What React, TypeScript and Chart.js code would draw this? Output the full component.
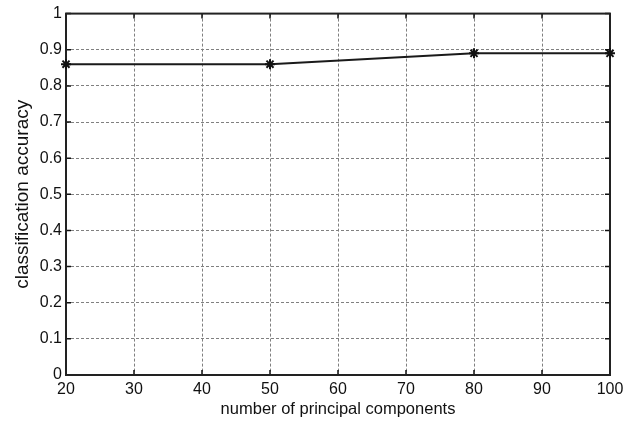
import React, { useEffect, useRef } from "react";
import { Chart, registerables } from "chart.js";

Chart.register(...registerables);

const components = [20, 50, 80, 100];
const accuracy = [0.86, 0.86, 0.89, 0.89];
const xTitle = "number of principal components";
const yTitle = "classification accuracy";

const FONT = "'Liberation Sans', Arial, Helvetica, sans-serif";

const boxPlugin = {
  id: "matlabBox",
  beforeDatasetsDraw(chart: any) {
    const { ctx, chartArea } = chart;
    const xs = chart.scales.x;
    const ys = chart.scales.y;
    ctx.save();
    ctx.strokeStyle = "#111";
    ctx.lineWidth = 1.5;
    ctx.beginPath();
    const tl = 5;
    xs.ticks.forEach((t: any) => {
      const px = xs.getPixelForValue(t.value);
      ctx.moveTo(px, chartArea.bottom);
      ctx.lineTo(px, chartArea.bottom - tl);
      ctx.moveTo(px, chartArea.top);
      ctx.lineTo(px, chartArea.top + tl);
    });
    ys.ticks.forEach((t: any) => {
      const py = ys.getPixelForValue(t.value);
      ctx.moveTo(chartArea.left, py);
      ctx.lineTo(chartArea.left + tl, py);
      ctx.moveTo(chartArea.right, py);
      ctx.lineTo(chartArea.right - tl, py);
    });
    ctx.stroke();
    ctx.lineWidth = 2;
    ctx.strokeStyle = "#222";
    ctx.strokeRect(
      chartArea.left,
      chartArea.top,
      chartArea.right - chartArea.left,
      chartArea.bottom - chartArea.top
    );
    ctx.restore();
  },
};

export default function App() {
  const ref = useRef<HTMLCanvasElement>(null);
  useEffect(() => {
    if (!ref.current) return;
    const chart = new Chart(ref.current, {
      type: "line",
      data: {
        datasets: [
          {
            data: components.map((x, i) => ({ x, y: accuracy[i] })),
            borderColor: "#1a1a1a",
            backgroundColor: "#1a1a1a",
            borderWidth: 2,
            pointStyle: "star",
            pointRadius: 5,
            pointBorderWidth: 2,
            pointBorderColor: "#111",
            fill: false,
            tension: 0,
            clip: false,
          },
        ],
      },
      options: {
        animation: false,
        responsive: false,
        maintainAspectRatio: false,
        layout: { padding: { top: 12, right: 25, left: 0, bottom: 0 } },
        plugins: { legend: { display: false }, tooltip: { enabled: false } },
        scales: {
          x: {
            type: "linear",
            min: 20,
            max: 100,
            afterFit: (s: any) => {
              s.height = 47;
            },
            ticks: {
              stepSize: 10,
              padding: 5,
              color: "#111",
              font: { family: FONT, size: 16 },
              maxRotation: 0,
            },
            grid: { color: "#808080", lineWidth: 1, drawTicks: false },
            border: { display: false, dash: [3, 2] },
            title: {
              display: true,
              text: xTitle,
              color: "#111",
              font: { family: FONT, size: 16.5 },
              padding: { top: 0, bottom: 3 },
            },
          },
          y: {
            type: "linear",
            min: 0,
            max: 1,
            afterFit: (s: any) => {
              s.width = 66;
            },
            ticks: {
              stepSize: 0.1,
              padding: 4,
              color: "#111",
              font: { family: FONT, size: 16 },
              callback: (v: any) => String(Math.round(Number(v) * 10) / 10),
            },
            grid: { color: "#808080", lineWidth: 1, drawTicks: false },
            border: { display: false, dash: [3, 2] },
            title: {
              display: true,
              text: yTitle,
              color: "#111",
              font: { family: FONT, size: 19 },
              padding: { top: 11, bottom: 0 },
            },
          },
        },
      },
      plugins: [boxPlugin],
    });
    return () => chart.destroy();
  }, []);
  return (
    <div style={{ position: "fixed", left: 0, top: 0, width: 635, height: 422, background: "#fff" }}>
      <canvas ref={ref} width={635} height={422} style={{ width: 635, height: 422 }} />
    </div>
  );
}
